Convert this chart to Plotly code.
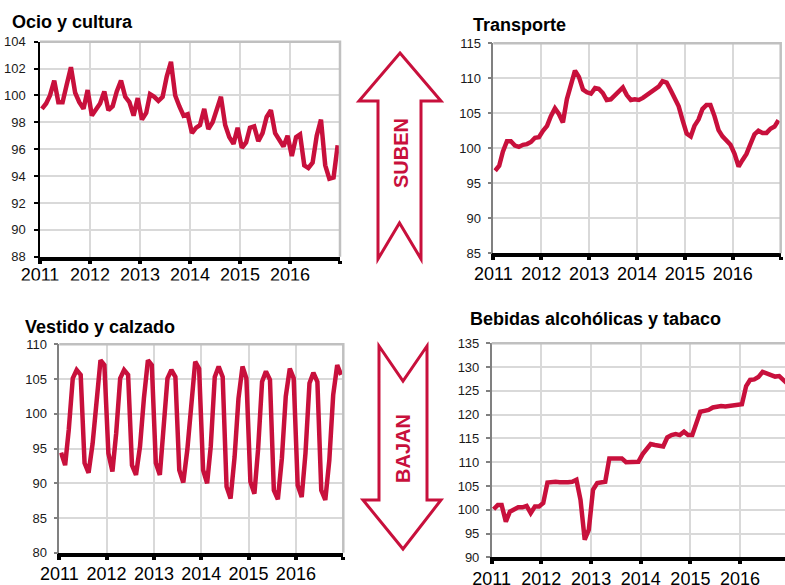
import plotly.graph_objects as go
from datetime import datetime, timedelta

# ---------------- data ----------------
months = [f"{y}-{m:02d}-15" for y in range(2011, 2017) for m in range(1, 13)]
year_ticks = [f"{y}-01-01" for y in range(2011, 2018)]
year_labels = [str(y) for y in range(2011, 2017)] + [""]

ocio = [99.0, 99.4, 100.0, 101.1, 99.5, 99.5, 100.8, 102.1, 100.2, 99.5, 99.0, 100.4,
        98.5, 99.0, 99.4, 100.3, 98.9, 99.2, 100.3, 101.1, 99.9, 99.5, 98.5, 99.8,
        98.2, 98.7, 100.1, 99.9, 99.6, 99.9, 101.4, 102.5, 100.0, 99.2, 98.5, 98.6,
        97.2, 97.6, 97.8, 99.0, 97.5, 98.0, 98.9, 99.9, 97.8, 96.9, 96.4, 97.6,
        96.1, 96.5, 97.6, 97.7, 96.6, 97.2, 98.4, 98.9, 97.2, 96.7, 96.2, 97.0,
        95.5, 96.9, 97.1, 94.8, 94.6, 95.0, 97.0, 98.2, 94.8, 93.8, 93.9, 96.3]

transporte = [96.8, 97.5, 99.5, 101.0, 101.0, 100.4, 100.2, 100.5, 100.6, 100.9, 101.5, 101.6,
              102.5, 103.2, 104.6, 105.7, 104.9, 103.7, 107.0, 109.3, 111.1, 110.2, 108.4, 108.0,
              107.8, 108.6, 108.5, 107.9, 106.9, 107.0, 107.6, 108.2, 108.7, 107.6, 106.9, 107.0,
              106.9, 107.2, 107.6, 107.9, 108.3, 108.8, 109.6, 109.4, 108.3, 107.2, 106.0, 104.0,
              102.1, 101.7, 103.2, 104.1, 105.6, 106.2, 106.2, 104.6, 102.6, 101.7, 101.0, 100.5,
              99.2, 97.4, 98.3, 99.2, 100.6, 102.0, 102.5, 102.2, 102.2, 102.8, 103.1, 104.0]

vestido = [94.4, 92.6, 97.7, 105.1, 106.3, 105.6, 92.9, 91.5, 95.7, 101.0, 107.7, 107.0,
           94.3, 91.7, 97.2, 105.1, 106.3, 105.6, 92.6, 91.2, 95.3, 102.2, 107.7, 107.0,
           92.9, 91.2, 97.4, 105.1, 106.3, 105.3, 91.9, 90.1, 94.8, 100.5, 107.5, 106.5,
           91.9, 90.0, 95.3, 105.3, 106.8, 105.3, 89.5, 87.8, 93.8, 102.2, 106.8, 105.1,
           90.2, 88.5, 94.8, 104.6, 106.1, 104.9, 89.0, 87.7, 93.6, 102.5, 106.5, 105.1,
           89.7, 88.0, 94.3, 104.4, 105.9, 104.6, 89.0, 87.6, 93.3, 102.7, 107.0, 105.6]

bebidas = [100.1, 101.0, 101.0, 97.5, 99.6, 100.1, 100.5, 100.5, 100.8, 99.3, 100.7, 100.7,
           101.4, 105.7, 105.9, 105.9, 105.8, 105.7, 105.8, 105.9, 106.3, 102.1, 93.7, 95.8,
           104.2, 105.6, 105.7, 105.9, 110.8, 110.8, 110.6, 110.8, 110.0, 110.1, 110.0, 110.1,
           111.7, 112.9, 113.8, 113.6, 113.5, 113.3, 115.2, 115.7, 115.9, 115.7, 116.4, 115.7,
           115.7, 118.2, 120.6, 120.8, 121.0, 121.5, 121.7, 121.8, 121.7, 121.8, 122.0, 122.2,
           122.2, 126.0, 127.3, 127.4, 127.9, 129.0, 128.7, 128.3, 128.0, 128.1, 127.3, 126.5]

titles = ["Ocio y cultura", "Transporte", "Vestido y calzado", "Bebidas alcohólicas y tabaco"]
series = [ocio, transporte, vestido, bebidas]

# ---------------- layout helpers ----------------
W, H = 785, 585
def fx(px): return px / W
def fy(py): return 1 - py / H

RED = "#C8103C"
GRID = "#d9d9d9"
BORDER = "#c0c0c0"
FONT = "Arial, Liberation Sans, sans-serif"

# panel 4 is clipped on the right: compute the date at the canvas edge
p4_left, p4_pxyr = 491.7, 49.67
p4_end = datetime(2011, 1, 1) + timedelta(days=(W - p4_left) / p4_pxyr * 365.25)

panels = [
    dict(dx=(40, 340), dy=(41.7, 256.7), yr=(88, 104), dt=2, ylc="black",
         xr=["2011-01-01", "2017-01-01"], title=(10, 22.3), xstand=-4, ystand=6),
    dict(dx=(493.3, 780.7), dy=(43.3, 253.3), yr=(85, 115), dt=5, ylc="#808080",
         xr=["2011-01-01", "2017-01-01"], title=(471, 25.5), xstand=-2, ystand=4),
    dict(dx=(59.3, 343.3), dy=(344.3, 552.7), yr=(80, 110), dt=5, ylc="#808080",
         xr=["2011-01-01", "2017-01-01"], title=(23, 326.5), xstand=-1, ystand=4),
    dict(dx=(491.7, 785), dy=(343.3, 557.3), yr=(90, 135), dt=5, ylc="#808080",
         xr=["2011-01-01", p4_end.strftime("%Y-%m-%d %H:%M")], title=(468, 318.8), xstand=-1, ystand=4),
]

fig = go.Figure()
shapes = []
annotations = []
layout = dict(width=W, height=H, margin=dict(l=0, r=0, t=0, b=0, pad=0, autoexpand=False),
              paper_bgcolor="white", plot_bgcolor="white", showlegend=False,
              font=dict(family=FONT, color="#1a1a1a"))

for i, (p, vals, ttl) in enumerate(zip(panels, series, titles), start=1):
    sx = "" if i == 1 else str(i)
    fig.add_trace(go.Scatter(x=months, y=vals, mode="lines", xaxis="x" + sx, yaxis="y" + sx,
                             line=dict(color=RED, width=4.5), hoverinfo="skip"))
    layout["xaxis" + sx] = dict(
        domain=[fx(p["dx"][0]), fx(p["dx"][1])], anchor="y" + sx, type="date",
        range=p["xr"], tickmode="array", tickvals=year_ticks, ticktext=year_labels,
        showline=True, linecolor="black", linewidth=4,
        ticks="outside", ticklen=3, tickwidth=4, tickcolor="black",
        showgrid=True, gridcolor=GRID, gridwidth=1.5, zeroline=False,
        tickfont=dict(size=18, color="black", family=FONT), automargin=False,
        ticklabelstandoff=p["xstand"], fixedrange=True)
    layout["yaxis" + sx] = dict(
        domain=[fy(p["dy"][1]), fy(p["dy"][0])], anchor="x" + sx,
        range=list(p["yr"]), dtick=p["dt"], tick0=p["yr"][0],
        showline=True, linecolor=p["ylc"], linewidth=1.5,
        ticks="outside", ticklen=4, tickwidth=1.5, tickcolor=p["ylc"],
        showgrid=True, gridcolor=GRID, gridwidth=1.5, zeroline=False,
        tickfont=dict(size=13, color="#1a1a1a", family=FONT), automargin=False,
        ticklabelstandoff=p["ystand"], fixedrange=True)
    # top / right plot-area border
    bx0, bx1 = p["dx"]
    by0, by1 = p["dy"]
    if i < 4:
        bpath = f"M {fx(bx0):.5f},{fy(by0):.5f} L {fx(bx1):.5f},{fy(by0):.5f} L {fx(bx1):.5f},{fy(by1):.5f}"
    else:
        bpath = f"M {fx(bx0):.5f},{fy(by0):.5f} L {fx(bx1):.5f},{fy(by0):.5f}"
    shapes.append(dict(type="path", xref="paper", yref="paper", path=bpath,
                       line=dict(color=BORDER, width=2.5), layer="above"))
    annotations.append(dict(text="<b>%s</b>" % ttl, xref="paper", yref="paper",
                            x=fx(p["title"][0]), y=fy(p["title"][1]),
                            xanchor="left", yanchor="middle", showarrow=False,
                            font=dict(size=18, color="black", family=FONT)))

# clip the bottom of panel 1's year labels (as in the reference)
shapes.append(dict(type="rect", xref="paper", yref="paper", x0=0, x1=fx(350),
                   y0=fy(300), y1=fy(280.5), fillcolor="white", line=dict(width=0),
                   layer="above"))

def path(pts):
    return "M " + " L ".join(f"{fx(x):.5f},{fy(y):.5f}" for x, y in pts) + " Z"

up_arrow = [(400, 53), (441, 101), (421, 101), (421, 259), (399.5, 223),
            (378, 259), (378, 101), (359, 101)]
down_arrow = [(379, 346), (403, 381), (427, 346), (427, 500), (441, 500),
              (403, 549), (363, 500), (379, 500)]
for pts in (up_arrow, down_arrow):
    shapes.append(dict(type="path", xref="paper", yref="paper", path=path(pts),
                       line=dict(color=RED, width=3), fillcolor="white", layer="above"))

annotations.append(dict(text="<b>SUBEN</b>", xref="paper", yref="paper", x=fx(401), y=fy(153),
                        textangle=-90, showarrow=False, xanchor="center", yanchor="middle",
                        font=dict(size=20, color=RED, family=FONT)))
annotations.append(dict(text="<b>BAJAN</b>", xref="paper", yref="paper", x=fx(403), y=fy(449),
                        textangle=-90, showarrow=False, xanchor="center", yanchor="middle",
                        font=dict(size=20, color=RED, family=FONT)))

layout["shapes"] = shapes
layout["annotations"] = annotations
fig.update_layout(**layout)
fig.write_html("out.html", config={"displayModeBar": False},
               post_script="document.body.style.margin='0';document.body.style.overflow='hidden';")
